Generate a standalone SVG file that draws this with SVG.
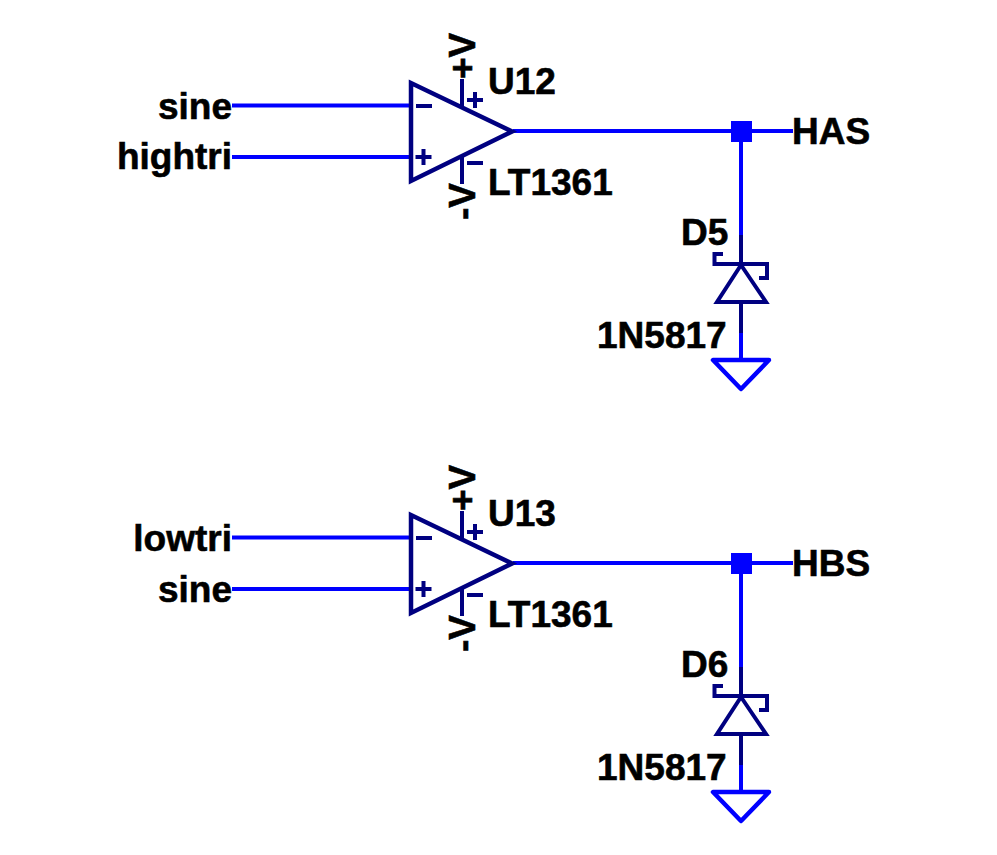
<svg xmlns="http://www.w3.org/2000/svg" width="997" height="855" viewBox="0 0 997 855">
<style>
text{font-family:"Liberation Sans",Arial,sans-serif;font-weight:bold;font-size:37px;fill:#000;stroke:#000;stroke-width:.6}
.e{text-anchor:end}
.sym{fill:none;stroke:#000080;stroke-width:4.500;stroke-linecap:square;stroke-linejoin:miter}
.pin{fill:none;stroke:#000080;stroke-width:4;stroke-linecap:butt}
.wire{fill:none;stroke:#0000ff;stroke-width:4}
.gnd{fill:none;stroke:#0000ff;stroke-width:4.500;stroke-linejoin:round;stroke-linecap:round}
.dot{fill:#0000ff;stroke:none}
</style>
<defs>
<g id="opamp-sym">
<path class="sym" d="M411 83V181L512 131.500Z"/>
<path class="pin" d="M462 79V107M462 156V184M416 106H432M415.500 157H431.500M423.500 149V165M467 100H483M475 92V108M467 163H483"/>
</g>
<g id="diode-sym">
<path class="pin" d="M741 235V264M741 304V333"/>
<path class="pin" d="M741 265L717 302H766ZM723 254H714.500V264H767V278H759"/>
</g>
<path id="gnd-sym" class="gnd" d="M713 360H769L741 389Z"/>
</defs>
<g id="connectors">
<path class="wire" d="M232 105.500H411M232 157H411M513 131H793M741 131V235M741 333V360"/>
<path class="wire" d="M232 537.500H411M232 589H411M513 563H793M741 563V667M741 765V792"/>
</g>
<g id="U12">
<use href="#opamp-sym"/>
<text transform="translate(475 79) rotate(-90)">+V</text>
<text transform="translate(475 220) rotate(-90)">-V</text>
<text x="488" y="94">U12</text>
<text x="488" y="195">LT1361</text>
</g>
<g id="U13">
<use href="#opamp-sym" y="432"/>
<text transform="translate(475 511) rotate(-90)">+V</text>
<text transform="translate(475 652) rotate(-90)">-V</text>
<text x="488" y="526">U13</text>
<text x="488" y="627">LT1361</text>
</g>
<g id="D5">
<use href="#diode-sym"/>
<text x="681" y="245">D5</text>
<text x="597" y="348">1N5817</text>
</g>
<g id="D6">
<use href="#diode-sym" y="432"/>
<text x="681" y="677">D6</text>
<text x="597" y="780">1N5817</text>
</g>
<g id="GND1"><use href="#gnd-sym"/></g>
<g id="GND2"><use href="#gnd-sym" y="432"/></g>
<g id="J1"><rect class="dot" x="731" y="121" width="21" height="21"/></g>
<g id="J2"><rect class="dot" x="731" y="553" width="21" height="21"/></g>
<g id="net-sine1"><text class="e" x="232" y="119">sine</text></g>
<g id="net-hightri"><text class="e" x="232" y="169">hightri</text></g>
<g id="net-lowtri"><text class="e" x="232" y="551">lowtri</text></g>
<g id="net-sine2"><text class="e" x="232" y="602">sine</text></g>
<g id="net-HAS"><text x="792" y="144">HAS</text></g>
<g id="net-HBS"><text x="792" y="576">HBS</text></g>
</svg>
